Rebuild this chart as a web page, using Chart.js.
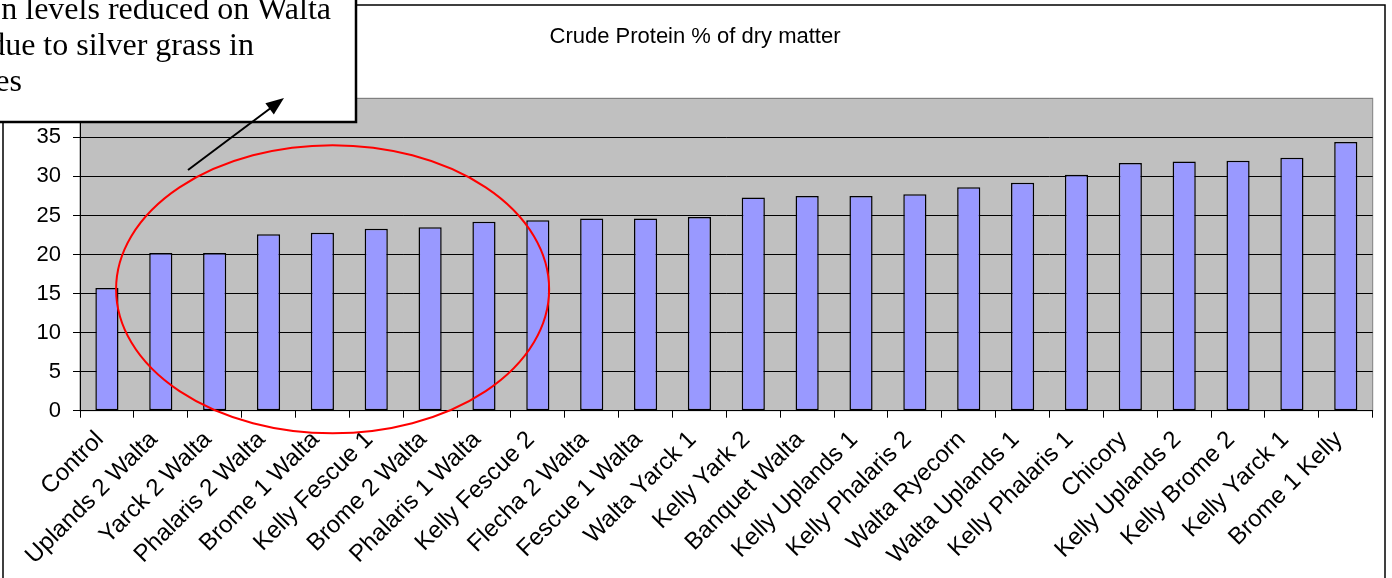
<!DOCTYPE html>
<html>
<head>
<meta charset="utf-8">
<script src="https://cdn.jsdelivr.net/npm/chart.js@4/dist/chart.umd.min.js"></script>
<style>
  body { margin: 0; background: #fff; }
  canvas { display: block; }
</style>
</head>
<body>
<canvas id="chjs_chart0" width="1392" height="578"></canvas>
<script>
// categories, in the order of the chart
const pasture_names = ["Control", "Uplands 2 Walta", "Yarck 2 Walta", "Phalaris 2 Walta", "Brome 1 Walta",
    "Kelly Fescue 1", "Brome 2 Walta", "Phalaris 1 Walta", "Kelly Fescue 2", "Flecha 2 Walta",
    "Fescue 1 Walta", "Walta Yarck 1", "Kelly Yark 2", "Banquet Walta", "Kelly Uplands 1",
    "Kelly Phalaris 2", "Walta Ryecorn", "Walta Uplands 1", "Kelly Phalaris 1", "Chicory",
    "Kelly Uplands 2", "Kelly Brome 2", "Kelly Yarck 1", "Brome 1 Kelly"];
// crude protein % of dry matter
const crude_protein = [15.7, 20.2, 20.2, 22.6, 22.8, 23.3, 23.5, 24.2, 24.4, 24.6,
    24.6, 24.8, 27.3, 27.5, 27.5, 27.7, 28.6, 29.2, 30.2, 31.7,
    31.9, 32.0, 32.4, 34.4];
const y_min = 0, y_max = 40, y_step = 5;
const chart_title = "Crude Protein % of dry matter";
const callout_lines = ["n levels reduced on Walta", "due to silver grass in", "es"];
// ellipse around the walta group (category index / value units)
const circle_cats = [0.17, 8.21];
const circle_vals = [-2.9, 34.0];

const plot_background = {
    id: "plot_background",
    beforeDraw(chart){
        const ctx = chart.ctx, a = chart.chartArea;
        ctx.save();
        ctx.fillStyle = "#ffffff";
        ctx.fillRect(0, 0, chart.width, chart.height);
        ctx.fillStyle = "#c0c0c0";
        ctx.fillRect(a.left, a.top, a.right - a.left, a.bottom - a.top);
        ctx.strokeStyle = "#808080";
        ctx.lineWidth = 1;
        ctx.strokeRect(a.left, a.top, a.right - a.left, a.bottom - a.top);
        ctx.restore();
    }
};

const annotations = {
    id: "annotations",
    afterDraw(chart){
        const ctx = chart.ctx;
        const xs = chart.scales.x, ys = chart.scales.y;
        ctx.save();
        // outer chart border
        ctx.strokeStyle = "#000";
        ctx.lineWidth = 1.5;
        ctx.strokeRect(3, 5, 1382, 600);

        // title, centred on the whole chart box
        ctx.fillStyle = "#000";
        ctx.font = "22px 'Liberation Sans', Arial";
        ctx.textAlign = "center";
        ctx.textBaseline = "middle";
        ctx.fillText(chart_title, 695, 37);

        // red ellipse
        const x0 = xs.getPixelForValue(circle_cats[0]), x1 = xs.getPixelForValue(circle_cats[1]);
        const y0 = ys.getPixelForValue(circle_vals[1]), y1 = ys.getPixelForValue(circle_vals[0]);
        ctx.beginPath();
        ctx.ellipse((x0 + x1) / 2, (y0 + y1) / 2, (x1 - x0) / 2, (y1 - y0) / 2, 0, 0, Math.PI * 2);
        ctx.strokeStyle = "#ff0000";
        ctx.lineWidth = 2;
        ctx.stroke();

        // callout box
        ctx.fillStyle = "#fff";
        ctx.fillRect(-10, -10, 366, 132);
        ctx.strokeStyle = "#000";
        ctx.lineWidth = 2.5;
        ctx.strokeRect(-10, -10, 366, 132);
        ctx.fillStyle = "#000";
        ctx.font = "32px 'Liberation Serif'";
        ctx.textAlign = "right";
        ctx.textBaseline = "alphabetic";
        ctx.fillText(callout_lines[0], 331, 19);
        ctx.fillText(callout_lines[1], 254, 55);
        ctx.fillText(callout_lines[2], 22, 91);

        // arrow
        const ax = 188, ay = 170, bx = 284, by = 98;
        const ang = Math.atan2(by - ay, bx - ax);
        ctx.beginPath();
        ctx.moveTo(ax, ay);
        ctx.lineTo(bx - 12 * Math.cos(ang), by - 12 * Math.sin(ang));
        ctx.lineWidth = 2;
        ctx.stroke();
        ctx.beginPath();
        ctx.moveTo(bx, by);
        ctx.lineTo(bx - 18 * Math.cos(ang) + 7 * Math.sin(ang), by - 18 * Math.sin(ang) - 7 * Math.cos(ang));
        ctx.lineTo(bx - 18 * Math.cos(ang) - 7 * Math.sin(ang), by - 18 * Math.sin(ang) + 7 * Math.cos(ang));
        ctx.closePath();
        ctx.fill();
        ctx.restore();
    }
};

new Chart(document.getElementById("chjs_chart0"), {
    type: "bar",
    data: {
        labels: pasture_names,
        datasets: [{
            label: "Crude Protein",
            data: crude_protein,
            backgroundColor: "#9999ff",
            borderColor: "#000000",
            borderWidth: 1.5,
            borderSkipped: false,
            categoryPercentage: 1.0,
            barPercentage: 0.43
        }]
    },
    options: {
        responsive: false,
        animation: false,
        devicePixelRatio: 1,
        layout: { padding: { left: 0, right: 19.3, top: 98.3, bottom: 0 } },
        plugins: {
            legend: { display: false },
            tooltip: { enabled: false },
            title: { display: false }
        },
        scales: {
            x: {
                afterFit: (scale) => { scale.height = 167.3; },
                grid: { display: true, drawOnChartArea: false, drawTicks: true, tickLength: 7, color: "#000", offset: true },
                border: { display: true, color: "#000", width: 1 },
                ticks: {
                    color: "#000",
                    font: { family: "'Liberation Sans', Arial", size: 24 },
                    minRotation: 45, maxRotation: 45,
                    autoSkip: false,
                    padding: 8,
                    labelOffset: -7
                }
            },
            y: {
                min: y_min, max: y_max,
                afterFit: (scale) => { scale.width = 80; },
                grid: {
                    color: (c) => (c.tick && c.tick.value === y_max) ? "#808080" : "#000",
                    lineWidth: 1, tickLength: 7
                },
                border: { display: true, color: "#000", width: 1 },
                ticks: {
                    stepSize: y_step,
                    color: "#000",
                    padding: 12,
                    font: { family: "'Liberation Sans', Arial", size: 22 }
                }
            }
        }
    },
    plugins: [plot_background, annotations]
});
</script>
</body>
</html>
